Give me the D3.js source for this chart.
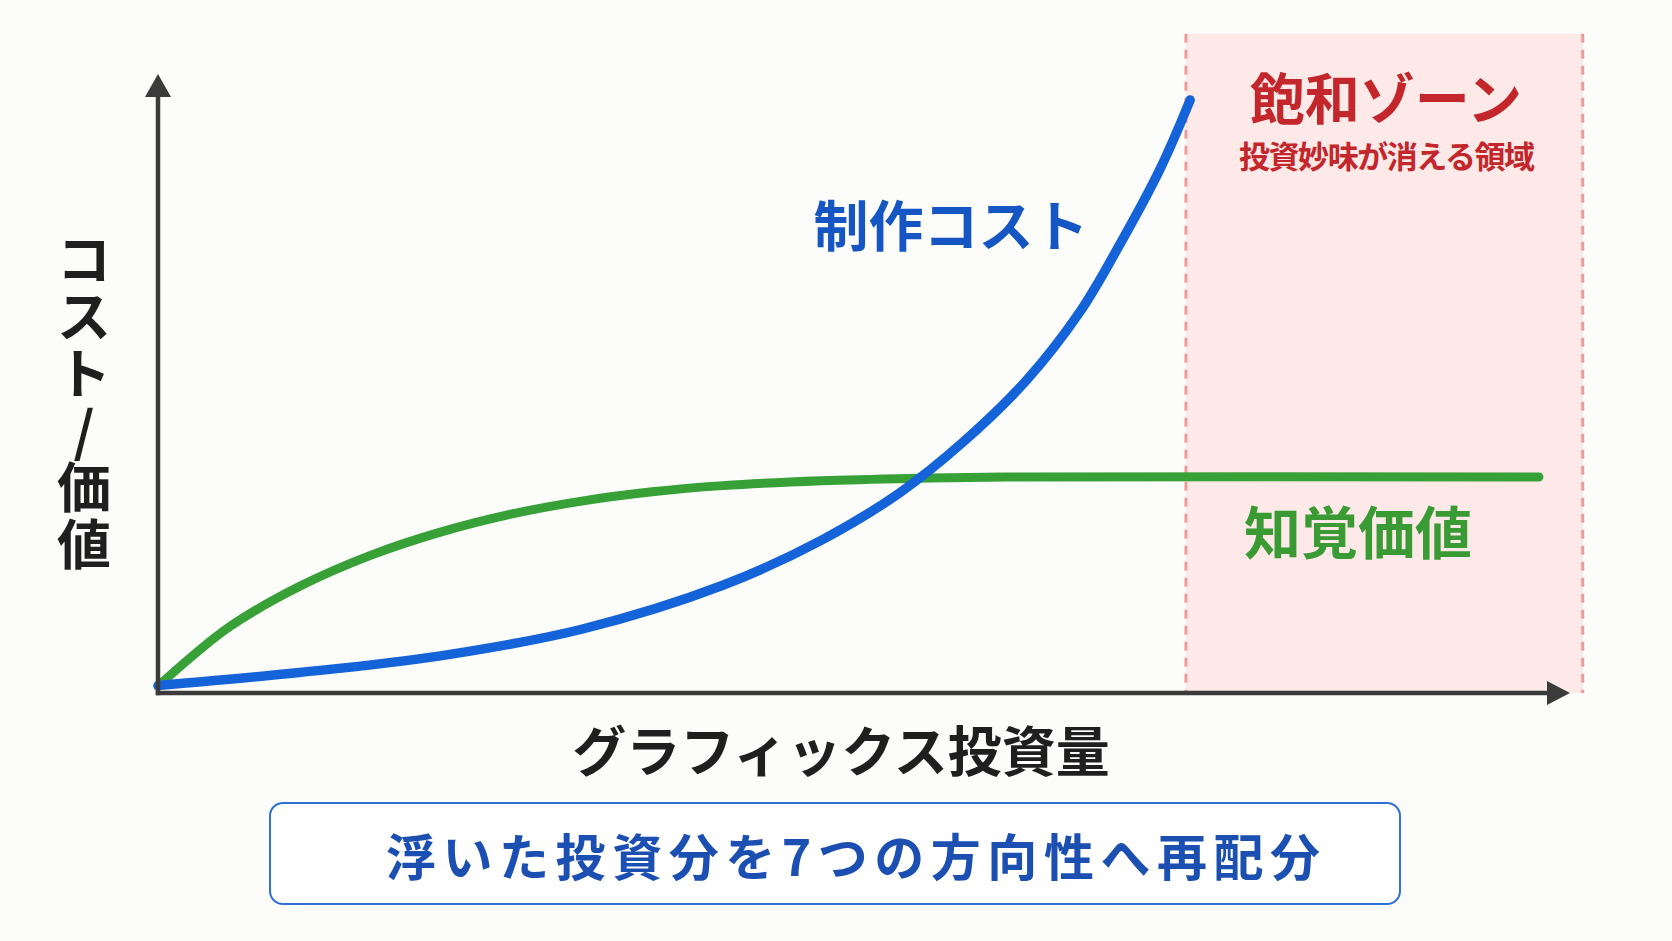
<!DOCTYPE html>
<html><head><meta charset="utf-8">
<script src="https://cdn.jsdelivr.net/npm/d3@7"></script>
<style>
html,body{margin:0;padding:0;background:#fcfcfb;}
svg{display:block;}
text{font-family:"Noto Sans CJK JP","Noto Sans CJK SC",sans-serif;font-weight:700;}
</style></head>
<body>
<script>
// ---- data ----
const costX  = [0, 10, 20, 30, 40, 47, 52.5, 57, 61.5, 65.3, 68.1, 71.0, 73.1];
const costY  = [1.2, 3.3, 6.0, 10.3, 17.4, 24.7, 32.3, 40.5, 50.5, 61.6, 72.4, 84.8, 95.8];
const valueX = [0, 5, 10, 15, 20, 25, 30, 35, 40, 47, 54, 60, 97.8];
const valueY = [1.1, 10.6, 17.2, 22.2, 26.0, 28.9, 31.0, 32.5, 33.5, 34.3, 34.7, 34.9, 34.9];
const zoneX  = [72.8, 100.9];
const zoneTop = 106.5;
const yAxisChars = ["コ", "ス", "ト", "/", "価", "値"];
const labels = {
  xAxis: "グラフィックス投資量",
  cost: "制作コスト",
  value: "知覚価値",
  zoneTitle: "飽和ゾーン",
  zoneSub: "投資妙味が消える領域",
  banner: "浮いた投資分を7つの方向性へ再配分"
};

const W = 1672, H = 941;
const svg = d3.select("body").append("svg").attr("width", W).attr("height", H);
svg.append("rect").attr("width", W).attr("height", H).attr("fill", "#fcfcfb");

const x = d3.scaleLinear().domain([0, 100]).range([158, 1570]);
const y = d3.scaleLinear().domain([0, 100]).range([693, 74]);

// zone
svg.append("rect")
  .attr("x", x(zoneX[0])).attr("y", y(zoneTop))
  .attr("width", x(zoneX[1]) - x(zoneX[0]))
  .attr("height", y(0) - y(zoneTop))
  .attr("fill", "#fdeae8");
zoneX.forEach(v => {
  svg.append("line")
    .attr("x1", x(v)).attr("x2", x(v))
    .attr("y1", y(zoneTop)).attr("y2", y(0))
    .attr("stroke", "#ef9a9a").attr("stroke-width", 3)
    .attr("stroke-dasharray", "9,7");
});

// curves
const line = d3.line().x(d => x(d[0])).y(d => y(d[1])).curve(d3.curveCatmullRom.alpha(0.5));
svg.append("path")
  .attr("d", line(valueX.map((v, i) => [v, valueY[i]])))
  .attr("fill", "none").attr("stroke", "#37a036").attr("stroke-width", 9)
  .attr("stroke-linecap", "round");
svg.append("path")
  .attr("d", line(costX.map((v, i) => [v, costY[i]])))
  .attr("fill", "none").attr("stroke", "#1463d8").attr("stroke-width", 9.5)
  .attr("stroke-linecap", "round");

// axes
const axisColor = "#3b3b3b";
svg.append("line").attr("x1", x(0) - 2.25).attr("x2", x(100) - 18)
  .attr("y1", y(0)).attr("y2", y(0))
  .attr("stroke", axisColor).attr("stroke-width", 4.5);
svg.append("line").attr("x1", x(0)).attr("x2", x(0))
  .attr("y1", y(0) + 2.25).attr("y2", y(100) + 18)
  .attr("stroke", axisColor).attr("stroke-width", 4.5);
svg.append("path")
  .attr("d", `M${x(100)},${y(0)} L${x(100) - 23},${y(0) - 12} L${x(100) - 23},${y(0) + 12} Z`)
  .attr("fill", axisColor);
svg.append("path")
  .attr("d", `M${x(0)},${y(100)} L${x(0) - 13},${y(100) + 23} L${x(0) + 13},${y(100) + 23} Z`)
  .attr("fill", axisColor);

// y axis label (stacked characters)
yAxisChars.forEach((c, i) => {
  svg.append("text").attr("x", 84).attr("y", 256 + 57 * i)
    .attr("text-anchor", "middle").attr("dominant-baseline", "central")
    .attr("font-size", 54).attr("fill", "#1f1f1f")
    .text(c);
});

// x axis label
svg.append("text").attr("x", 841).attr("y", 772)
  .attr("text-anchor", "middle").attr("font-size", 54).attr("fill", "#1f1f1f")
  .text(labels.xAxis);

// series labels
svg.append("text").attr("x", 951).attr("y", 246)
  .attr("text-anchor", "middle").attr("font-size", 55).attr("fill", "#1556c4")
  .text(labels.cost);
svg.append("text").attr("x", 1358).attr("y", 554)
  .attr("text-anchor", "middle").attr("font-size", 57).attr("fill", "#3a9a34")
  .text(labels.value);

// zone labels
svg.append("text").attr("x", 1386).attr("y", 119)
  .attr("text-anchor", "middle").attr("font-size", 55).attr("fill", "#c4272b")
  .text(labels.zoneTitle);
svg.append("text").attr("x", 1387).attr("y", 168)
  .attr("text-anchor", "middle").attr("font-size", 31).attr("fill", "#c4272b")
  .attr("textLength", 296).attr("lengthAdjust", "spacing")
  .text(labels.zoneSub);

// banner
svg.append("rect").attr("x", 270).attr("y", 803).attr("width", 1130).attr("height", 101)
  .attr("rx", 13).attr("fill", "#ffffff").attr("stroke", "#2f6fd6").attr("stroke-width", 2);
svg.append("text").attr("x", 853).attr("y", 876)
  .attr("text-anchor", "middle").attr("font-size", 50).attr("fill", "#1c4fb2")
  .attr("textLength", 934).attr("lengthAdjust", "spacing")
  .text(labels.banner);
</script>
</body></html>
